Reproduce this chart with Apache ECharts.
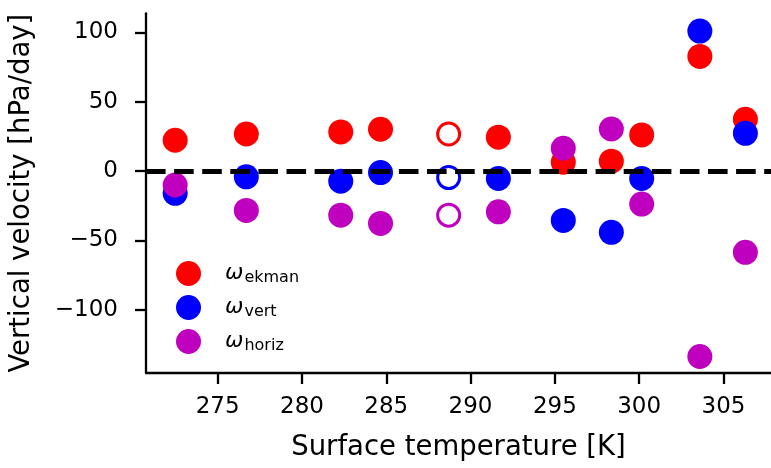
<!DOCTYPE html>
<html>
<head>
<meta charset="utf-8">
<script src="https://cdn.jsdelivr.net/npm/echarts@6/dist/echarts.min.js"></script>
<style>html,body{margin:0;padding:0;background:#fff}#c{width:771px;height:468px}</style>
</head>
<body>
<div id="c"></div>
<script>
// Surface temperature [K] for each point
const temps = [272.48, 276.7, 282.3, 284.66, 291.65, 295.5, 298.35, 300.15, 303.6, 306.3];
const omegaEkman = [22.3, 26.8, 28.3, 30.2, 24.5, 6.5, 7.2, 26.1, 82.7, 37.4];
const omegaVert = [-16, -4.1, -7.2, -1, -5.3, -35.5, -44.1, -5.3, 101, 27.3];
const omegaHoriz = [-10, -28.3, -31.7, -37.7, -29.3, 16.5, 30.4, -23.7, -133.6, -58.5];
// hollow (open-circle) points
const hollowTemp = [288.7];
const hollowEkman = [26.8];
const hollowVert = [-4.6];
const hollowHoriz = [-31.7];
// tick labels
const xTicks = [275, 280, 285, 290, 295, 300, 305];
const yTicks = [-100, -50, 0, 50, 100];
const seriesNames = ['ekman', 'vert', 'horiz'];
const colors = ['#ff0000', '#0000ff', '#bf00bf'];

const pair = (xs, ys) => xs.map((x, i) => [x, ys[i]]);
const FONT = 'DejaVu Sans';
const chart = echarts.init(document.getElementById('c'), null, {renderer: 'canvas'});

const filled = [omegaEkman, omegaVert, omegaHoriz].map((ys, k) => ({
  name: seriesNames[k], type: 'scatter', symbol: 'circle', symbolSize: 25,
  data: pair(temps, ys), itemStyle: {color: colors[k], opacity: 1}, z: 2,
  emphasis: {disabled: true}
}));
const hollow = [hollowEkman, hollowVert, hollowHoriz].map((ys, k) => ({
  name: seriesNames[k] + '_open', type: 'scatter', symbol: 'circle', symbolSize: 22,
  data: pair(hollowTemp, ys),
  itemStyle: {color: 'rgba(0,0,0,0)', borderColor: colors[k], borderWidth: 3, opacity: 1}, z: 2,
  emphasis: {disabled: true}
}));
const zeroLine = {
  name: 'zero', type: 'scatter', data: [], z: 5,
  markLine: {
    silent: true, symbol: 'none', label: {show: false},
    lineStyle: {color: '#000', width: 5, type: [19.6, 8.5], dashOffset: 0},
    data: [{yAxis: 0}], z: 5
  }
};

const fmt = v => v < 0 ? '\u2212' + Math.abs(v) : String(v);

chart.setOption({
  animation: false,
  backgroundColor: '#fff',
  textStyle: {fontFamily: FONT},
  grid: {left: 146, right: 0, top: 13.3, bottom: 95, containLabel: false},
  xAxis: {
    type: 'value', min: 270.75, max: 307.82,
    name: 'Surface temperature [K]', nameLocation: 'middle', nameGap: 61,
    nameTextStyle: {fontFamily: FONT, fontSize: 27.5, color: '#000'},
    axisLine: {show: true, onZero: false, lineStyle: {color: '#000', width: 2.3}},
    axisTick: {show: true, length: 11, lineStyle: {color: '#000', width: 2.3}, customValues: xTicks},
    axisLabel: {fontFamily: FONT, fontSize: 23, color: '#000', margin: 23, customValues: xTicks, formatter: fmt},
    splitLine: {show: false}
  },
  yAxis: {
    type: 'value', min: -145.5, max: 113.8,
    name: 'Vertical velocity [hPa/day]', nameLocation: 'middle', nameGap: 110, nameRotate: 90,
    nameTextStyle: {fontFamily: FONT, fontSize: 27.5, color: '#000'},
    axisLine: {show: true, onZero: false, lineStyle: {color: '#000', width: 2.3}},
    axisTick: {show: true, length: 11, lineStyle: {color: '#000', width: 2.3}, customValues: yTicks},
    axisLabel: {fontFamily: FONT, fontSize: 23, color: '#000', margin: 28, customValues: yTicks, formatter: fmt},
    splitLine: {show: false}
  },
  legend: {
    data: seriesNames, orient: 'vertical', left: 171, top: 256,
    itemWidth: 25, itemHeight: 25, itemGap: 9, icon: 'circle',
    formatter: n => '{w|\u03c9}{s|' + n + '}',
    textStyle: {
      color: '#000',
      rich: {
        w: {fontFamily: FONT, fontStyle: 'italic', fontSize: 22, color: '#000', padding: [0, 0, 0, 19], lineHeight: 25},
        s: {fontFamily: FONT, fontSize: 16, color: '#000', verticalAlign: 'bottom', padding: [7, 0, 0, 1], lineHeight: 18}
      }
    }
  },
  series: [...filled, ...hollow, zeroLine]
});
</script>
</body>
</html>
